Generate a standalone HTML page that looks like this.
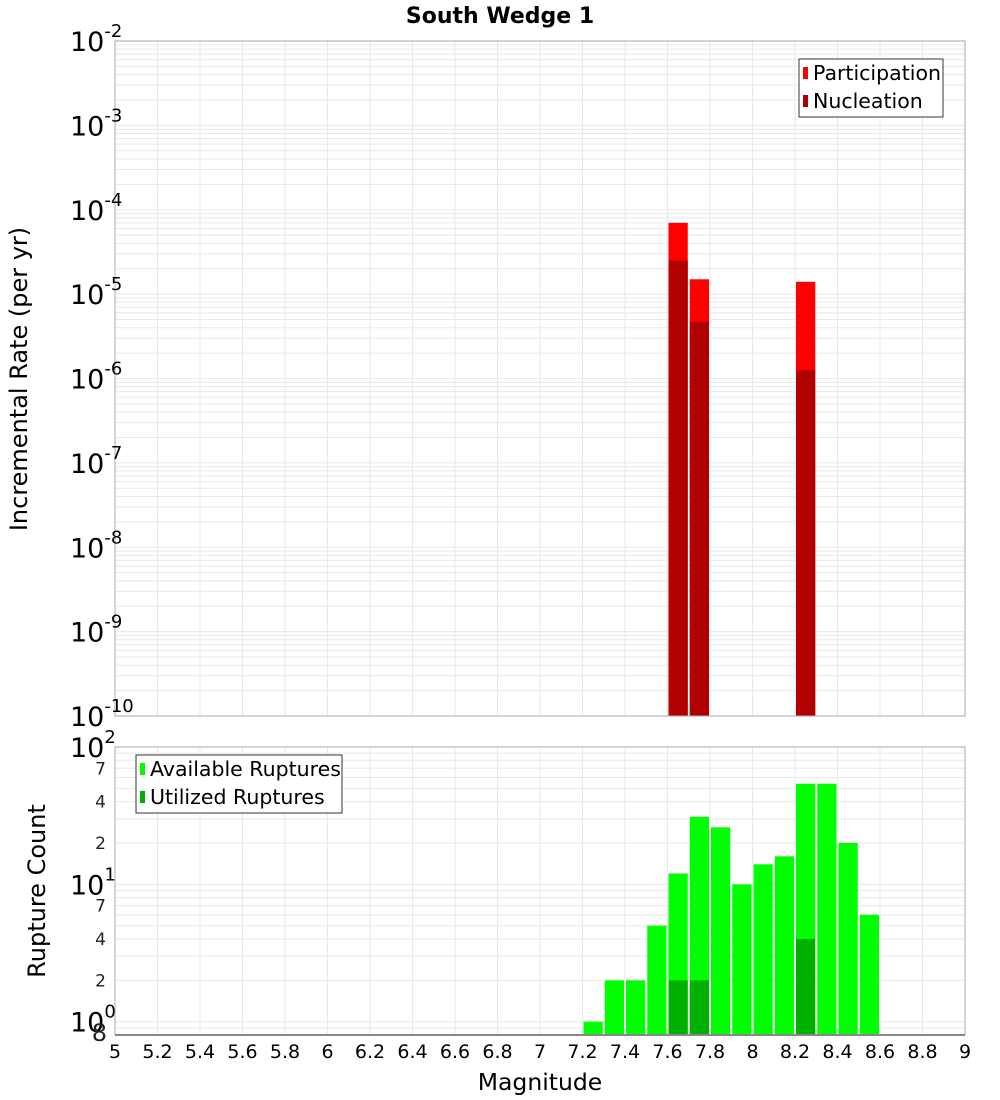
<!DOCTYPE html>
<html><head><meta charset="utf-8"><style>
html,body{margin:0;padding:0;background:#fff;}
svg{display:block;font-family:"DejaVu Sans","Liberation Sans",sans-serif;}
</style></head><body>
<svg id="chart" width="1000" height="1100" viewBox="0 0 1000 1100" xmlns="http://www.w3.org/2000/svg">
<text x="500" y="23" text-anchor="middle" font-size="22" font-weight="bold" font-family="DejaVu Sans, sans-serif">South Wedge 1</text>
<g id="topPanel"></g>
<g id="botPanel"></g>
<text transform="translate(27,379) rotate(-90)" text-anchor="middle" font-size="24" font-family="DejaVu Sans, sans-serif">Incremental Rate (per yr)</text>
<text transform="translate(45,891) rotate(-90)" text-anchor="middle" font-size="24" font-family="DejaVu Sans, sans-serif">Rupture Count</text>
<text x="540" y="1090" text-anchor="middle" font-size="23.5" font-family="DejaVu Sans, sans-serif">Magnitude</text>
</svg>
<script>
const rateMags = [7.65, 7.75, 8.25];
const participation = [7e-5, 1.5e-5, 1.4e-5];
const nucleation = [2.5e-5, 4.7e-6, 1.25e-6];
const countMags = [7.25,7.35,7.45,7.55,7.65,7.75,7.85,7.95,8.05,8.15,8.25,8.35,8.45,8.55];
const available = [1,2,2,5,12,31,26,10,14,16,54,54,20,6];
const utilMags = [7.65,7.75,8.25];
const utilized = [2,2,4];
const xTicks = [5,5.2,5.4,5.6,5.8,6,6.2,6.4,6.6,6.8,7,7.2,7.4,7.6,7.8,8,8.2,8.4,8.6,8.8,9];
const topExps = [-10,-9,-8,-7,-6,-5,-4,-3,-2];
const botMinorLabels = [[0.8,"8"],[2,"2"],[4,"4"],[7,"7"],[20,"2"],[40,"4"],[70,"7"]];

const NS="http://www.w3.org/2000/svg";
const L=115,R=965;
const xS=v=>L+(v-5)/4*(R-L);
const T1=41,B1=716, T2=747,B2=1035;
const yTop=v=>T1+(-2-Math.log10(v))/8*(B1-T1);
const bMin=Math.log10(0.8), bMax=2;
const yBot=v=>T2+(bMax-Math.log10(v))/(bMax-bMin)*(B2-T2);
const BW=(R-L)/40;
function mk(tag,attrs,parent,name,txt){const e=document.createElementNS(NS,tag);for(const k in attrs)e.setAttribute(k,attrs[k]);


if(txt!==undefined)e.textContent=txt;parent.appendChild(e);return e;}
const gTop=document.getElementById('topPanel'), gBot=document.getElementById('botPanel');
function grid(g,T,B,yf,lo,hi){
  for(const t of xTicks) mk('line',{x1:xS(t),x2:xS(t),y1:T,y2:B,stroke:'#e8e8e8','stroke-width':1},g,'grid-vertical');
  for(let e=lo;e<hi;e++)for(let m=1;m<10;m++){const v=m*Math.pow(10,e);const y=yf(v);if(y<T-0.1||y>B+0.1)continue;
    mk('line',{x1:L,x2:R,y1:y,y2:y,stroke:'#e8e8e8','stroke-width':1},g,'grid-horizontal');}
}
grid(gTop,T1,B1,yTop,-10,-2);
grid(gBot,T2,B2,yBot,-1,2);
rateMags.forEach((m,i)=>{
  const x=xS(m-0.05)+1,w=BW-2;
  const y=yTop(participation[i]);mk('rect',{x:x,y:y,width:w,height:B1-y,fill:'#ff0000'},gTop,'participation-bar');
  const y2=yTop(nucleation[i]);mk('rect',{x:x,y:y2,width:w,height:B1-y2,fill:'#b00000'},gTop,'nucleation-bar');
});
countMags.forEach((m,i)=>{
  const x=xS(m-0.05)+1,w=BW-2;const y=yBot(available[i]);
  mk('rect',{x:x,y:y,width:w,height:B2-y,fill:'#00ff00'},gBot,'available-bar');
});
utilMags.forEach((m,i)=>{
  const x=xS(m-0.05)+1,w=BW-2;const y=yBot(utilized[i]);
  mk('rect',{x:x,y:y,width:w,height:B2-y,fill:'#00b000'},gBot,'utilized-bar');
});
mk('rect',{x:L,y:T1,width:R-L,height:B1-T1,fill:'none',stroke:'#aaa','stroke-width':1},gTop,'plot-frame-top');
mk('rect',{x:L,y:T2,width:R-L,height:B2-T2,fill:'none',stroke:'#aaa','stroke-width':1},gBot,'plot-frame-bottom');
mk('line',{x1:L,x2:R,y1:B2,y2:B2,stroke:'#888','stroke-width':2},gBot,'x-axis-line');
topExps.forEach(e=>{const y=yTop(Math.pow(10,e));
  const t=mk('text',{x:70,y:y+10,'font-size':27},gTop,'y-tick-label');
  mk('tspan',{},t,'y-tick-base','10');mk('tspan',{dy:-14,'font-size':18},t,'y-tick-exponent',String(e));});
[0,1,2].forEach(e=>{const y=yBot(Math.pow(10,e));
  const t=mk('text',{x:70,y:y+10,'font-size':27},gBot,'y-tick-label');
  mk('tspan',{},t,'y-tick-base','10');mk('tspan',{dy:-14,'font-size':18},t,'y-tick-exponent',String(e));});
botMinorLabels.forEach(([v,s])=>{const y=yBot(v);
  mk('text',{x:v===0.8?107:106,y:y+6,'font-size':v===0.8?24:17,'text-anchor':'end',fill:'#222'},gBot,'y-minor-tick-label',s);});
xTicks.forEach(t=>mk('text',{x:xS(t),y:1058,'font-size':19,'text-anchor':'middle'},gBot,'x-tick-label',String(t)));
function legend(g,x,y,w,h,items){mk('rect',{x:x,y:y,width:w,height:h,fill:'#fff',stroke:'#333','stroke-width':1},g,'legend-box');
 items.forEach(([c,s],i)=>{const yy=y+14+i*28;mk('rect',{x:x+4,y:yy-6,width:5,height:12,fill:c},g,'legend-swatch');
 mk('text',{x:x+14,y:yy+7,'font-size':20.5,'font-family':'DejaVu Sans, sans-serif'},g,'legend-entry',s);});}
legend(gTop,799,59,144,58,[['#ff0000','Participation'],['#b00000','Nucleation']]);
legend(gBot,136,755,206,58,[['#00ff00','Available Ruptures'],['#00b000','Utilized Ruptures']]);
</script>
</body></html>
